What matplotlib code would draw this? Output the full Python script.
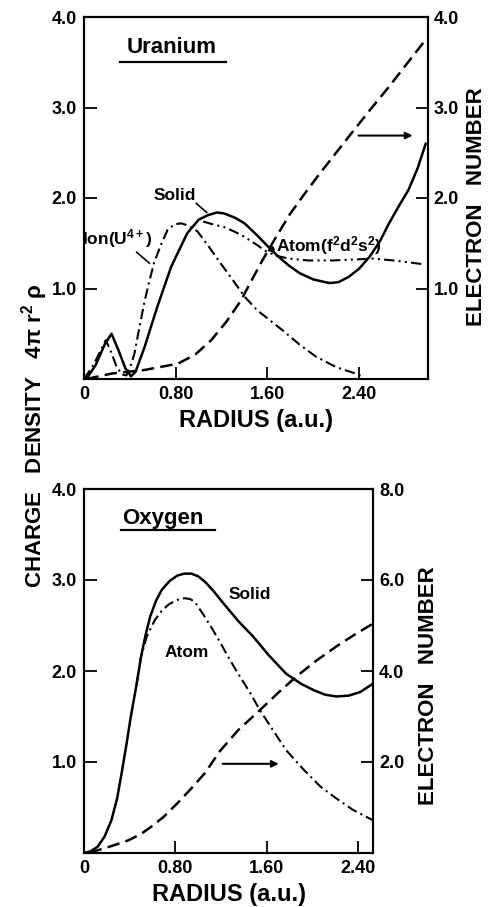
import matplotlib
matplotlib.use("Agg")
import matplotlib.pyplot as plt

plt.rcParams['font.family'] = ['Liberation Sans', 'DejaVu Sans']
plt.rcParams['font.weight'] = 'bold'
plt.rcParams['axes.labelweight'] = 'bold'
plt.rcParams['mathtext.default'] = 'regular'

# ---- Uranium (top panel) ----
u_solid_r = [0.02, 0.10, 0.18, 0.24, 0.30, 0.36, 0.41, 0.45, 0.53, 0.64, 0.76, 0.90, 1.00, 1.08,
             1.16, 1.22, 1.32, 1.40, 1.50, 1.60, 1.68, 1.78, 1.88, 2.00, 2.14, 2.22, 2.31, 2.40,
             2.49, 2.58, 2.66, 2.75, 2.83, 2.91, 2.98]
u_solid = [0.00, 0.15, 0.38, 0.50, 0.32, 0.12, 0.03, 0.08, 0.36, 0.80, 1.24, 1.61, 1.76, 1.81,
           1.84, 1.83, 1.78, 1.72, 1.60, 1.47, 1.37, 1.26, 1.17, 1.10, 1.06, 1.07, 1.13, 1.22,
           1.35, 1.52, 1.72, 1.92, 2.09, 2.33, 2.60]

u_ion_r = [0.00, 0.08, 0.14, 0.19, 0.23, 0.28, 0.33, 0.37, 0.40, 0.44, 0.48, 0.53, 0.57, 0.61,
           0.67, 0.73, 0.79, 0.85, 0.92, 0.99, 1.09, 1.19, 1.30, 1.40, 1.51, 1.62, 1.73, 1.88,
           2.02, 2.20, 2.37, 2.44]
u_ion = [0.00, 0.15, 0.30, 0.43, 0.32, 0.15, 0.05, 0.04, 0.12, 0.28, 0.55, 0.87, 1.08, 1.28,
         1.48, 1.65, 1.71, 1.72, 1.69, 1.63, 1.46, 1.28, 1.09, 0.91, 0.76, 0.65, 0.54, 0.38,
         0.25, 0.13, 0.06, 0.02]

u_atom_r = [1.04, 1.12, 1.22, 1.31, 1.40, 1.51, 1.59, 1.68, 1.79, 1.95, 2.17, 2.35, 2.52, 2.70, 2.95]
u_atom = [1.74, 1.71, 1.68, 1.63, 1.57, 1.48, 1.41, 1.36, 1.33, 1.31, 1.31, 1.32, 1.33, 1.31, 1.27]

u_num_r = [0.02, 0.24, 0.53, 0.82, 0.97, 1.11, 1.24, 1.37, 1.44, 1.56, 1.68, 1.80, 1.92, 2.05,
           2.18, 2.31, 2.48, 2.66, 2.82, 2.98]
u_num = [0.00, 0.06, 0.10, 0.17, 0.27, 0.43, 0.63, 0.87, 1.04, 1.32, 1.58, 1.83, 2.04, 2.26,
         2.47, 2.68, 2.95, 3.23, 3.49, 3.75]

# ---- Oxygen (bottom panel) ----
o_solid_r = [0.00, 0.06, 0.12, 0.18, 0.24, 0.29, 0.33, 0.37, 0.41, 0.46, 0.50, 0.54, 0.58, 0.63,
             0.68, 0.75, 0.82, 0.88, 0.94, 1.00, 1.06, 1.14, 1.21, 1.35, 1.48, 1.62, 1.77, 1.90,
             2.01, 2.11, 2.21, 2.32, 2.42, 2.53]
o_solid = [0.00, 0.02, 0.07, 0.18, 0.36, 0.60, 0.88, 1.18, 1.50, 1.85, 2.16, 2.40, 2.60, 2.77,
           2.89, 2.99, 3.05, 3.07, 3.07, 3.04, 2.98, 2.87, 2.76, 2.55, 2.38, 2.17, 1.97, 1.86,
           1.79, 1.74, 1.72, 1.73, 1.77, 1.86]

o_atom_r = [0.46, 0.50, 0.55, 0.62, 0.68, 0.74, 0.81, 0.88, 0.93, 0.97, 1.04, 1.11, 1.19, 1.26,
            1.35, 1.45, 1.54, 1.66, 1.77, 1.92, 2.07, 2.22, 2.36, 2.53]
o_atom = [1.85, 2.16, 2.38, 2.56, 2.66, 2.73, 2.78, 2.80, 2.79, 2.76, 2.63, 2.49, 2.32, 2.16,
          1.97, 1.77, 1.57, 1.34, 1.13, 0.92, 0.73, 0.59, 0.47, 0.36]

o_num_r = [0.05, 0.12, 0.25, 0.39, 0.50, 0.59, 0.70, 0.82, 0.94, 1.06, 1.19, 1.35, 1.54, 1.70,
           1.86, 2.03, 2.21, 2.37, 2.53]
o_num = [0.00, 0.06, 0.16, 0.28, 0.42, 0.58, 0.80, 1.10, 1.42, 1.76, 2.24, 2.70, 3.14, 3.52,
         3.88, 4.22, 4.54, 4.80, 5.04]

r_ticks = [0, 0.8, 1.6, 2.4]
r_labels = ['0', '0.80', '1.60', '2.40']
rho_ticks = [1.0, 2.0, 3.0, 4.0]
u_num_ticks = [1.0, 2.0, 3.0, 4.0]
o_num_ticks = [2.0, 4.0, 6.0, 8.0]

W, H = 488, 907
fig = plt.figure(figsize=(W / 100, H / 100), dpi=100)

lw = 1.8
dash = (0, (5, 2.5))
dashdot = (0, (5, 2, 1, 2))
dashdotdot = (0, (5, 2, 1, 2, 1, 2))


def style(ax, ax2, xmax, nticks):
    ax.set_xlim(0, xmax)
    ax.set_ylim(0, 4)
    ax.set_xticks(r_ticks)
    ax.set_xticklabels(r_labels)
    ax.set_yticks(rho_ticks)
    ax.set_yticklabels(['%.1f' % v for v in rho_ticks])
    ax.tick_params(direction='in', length=9, width=1.3, labelsize=13, pad=5)
    ax.tick_params(axis='y', right=False)
    ax2.set_ylim(0, nticks[-1])
    ax2.set_yticks(nticks)
    ax2.set_yticklabels(['%.1f' % v for v in nticks])
    ax2.tick_params(direction='in', length=9, width=1.3, labelsize=13, pad=4)
    for a in (ax, ax2):
        for s in a.spines.values():
            s.set_linewidth(1.5)


# top panel
ax = fig.add_axes([84 / W, 1 - 379 / H, 344 / W, 362 / H])
ax2 = ax.twinx()
style(ax, ax2, 3.0, u_num_ticks)
ax.plot(u_solid_r, u_solid, color='k', lw=lw)
ax.plot(u_ion_r, u_ion, color='k', lw=1.5, linestyle=dashdot)
ax.plot(u_atom_r, u_atom, color='k', lw=1.5, linestyle=dashdotdot)
ax2.plot(u_num_r, u_num, color='k', lw=lw, linestyle=dash)
ax.text(0.76, 3.66, 'Uranium', fontsize=16, ha='center', va='center')
ax.plot([0.31, 1.24], [3.50, 3.50], color='k', lw=1.6)
ax.text(0.79, 2.03, 'Solid', fontsize=12.5, ha='center', va='center')
ax.plot([0.98, 1.07], [1.94, 1.84], color='k', lw=1.2)
ax.text(0.29, 1.55, 'Ion(U$^{4+}$)', fontsize=12.5, ha='center', va='center')
ax.plot([0.46, 0.57], [1.40, 1.28], color='k', lw=1.2)
ax.text(2.13, 1.48, 'Atom(f$^2$d$^2$s$^2$)', fontsize=12.5, ha='center', va='center')
ax.annotate('', xy=(1.57, 1.41), xytext=(1.68, 1.44),
            arrowprops=dict(arrowstyle='-|>', color='k', lw=1.2, mutation_scale=9))
ax.annotate('', xy=(2.89, 2.69), xytext=(2.37, 2.69),
            arrowprops=dict(arrowstyle='-|>', color='k', lw=1.5, mutation_scale=10))
ax.set_xlabel('RADIUS (a.u.)', fontsize=17, labelpad=4)

# bottom panel
bx = fig.add_axes([84 / W, 1 - 853 / H, 289.5 / W, 364 / H])
bx2 = bx.twinx()
style(bx, bx2, 2.535, o_num_ticks)
bx.plot(o_solid_r, o_solid, color='k', lw=lw)
bx.plot(o_atom_r, o_atom, color='k', lw=1.5, linestyle=dashdot)
bx2.plot(o_num_r, o_num, color='k', lw=lw, linestyle=dash)
bx.text(0.69, 3.68, 'Oxygen', fontsize=16, ha='center', va='center')
bx.plot([0.32, 1.15], [3.55, 3.55], color='k', lw=1.6)
bx.text(1.45, 2.84, 'Solid', fontsize=12.5, ha='center', va='center')
bx.text(0.90, 2.20, 'Atom', fontsize=12.5, ha='center', va='center')
bx.annotate('', xy=(1.73, 0.98), xytext=(1.19, 0.98),
            arrowprops=dict(arrowstyle='-|>', color='k', lw=1.5, mutation_scale=10))
bx.set_xlabel('RADIUS (a.u.)', fontsize=17, labelpad=4)

fig.text(35 / W, 1 - 436 / H, 'CHARGE   DENSITY   4π r$^2$ ρ', rotation=90, fontsize=16,
         ha='center', va='center')
fig.text(477 / W, 1 - 207 / H, 'ELECTRON   NUMBER', rotation=90, fontsize=16,
         ha='center', va='center')
fig.text(429 / W, 1 - 686 / H, 'ELECTRON   NUMBER', rotation=90, fontsize=16,
         ha='center', va='center')

fig.savefig('out.png', dpi=100)
